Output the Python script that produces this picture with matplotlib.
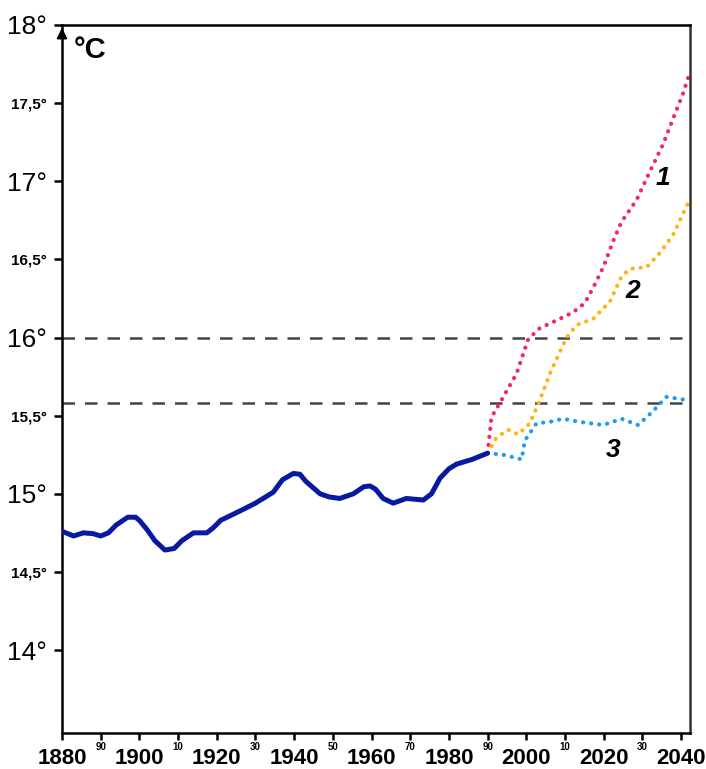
import matplotlib
matplotlib.use("Agg")
import matplotlib.pyplot as plt

plt.rcParams['font.family'] = ['Liberation Sans', 'DejaVu Sans']

# observed mean temperature, 1880-1990
obs_years = [1880, 1881, 1883, 1885.5, 1888, 1890, 1892, 1894, 1897, 1899, 1900, 1902, 1904, 1906.6,
             1909, 1911, 1914, 1917.4, 1919, 1921, 1926, 1930, 1934.6, 1937, 1939.8, 1941.5, 1943,
             1946.7, 1949, 1951.8, 1955.3, 1958, 1959.6, 1961, 1963, 1965.6, 1969, 1973.4, 1975.5,
             1977.7, 1980, 1982, 1986, 1990]
obs_temp = [14.76, 14.75, 14.73, 14.75, 14.745, 14.73, 14.75, 14.80, 14.85, 14.85, 14.83, 14.77,
            14.70, 14.64, 14.65, 14.70, 14.75, 14.75, 14.78, 14.83, 14.89, 14.94, 15.01, 15.09,
            15.13, 15.125, 15.08, 15.00, 14.98, 14.97, 15.00, 15.045, 15.05, 15.03, 14.97, 14.94,
            14.97, 14.96, 15.00, 15.10, 15.16, 15.19, 15.22, 15.26]

# scenario 1
s1_years = [1990, 1991, 1993.6, 1997.5, 2000.5, 2003.5, 2008.7, 2012, 2015.1, 2017.3, 2019.9, 2022.5,
            2024.6, 2028.5, 2031.9, 2035.4, 2038.4, 2040.5, 2042.3]
s1_temp = [15.26, 15.49, 15.60, 15.77, 15.99, 16.06, 16.12, 16.16, 16.22, 16.32, 16.45, 16.62,
           16.74, 16.88, 17.06, 17.24, 17.43, 17.56, 17.70]

# scenario 2
s2_years = [1990, 1992.3, 1995.3, 1997.9, 2000.9, 2003.5, 2006.1, 2010.4, 2013, 2017.3, 2021.6,
            2024.6, 2026.8, 2031.1, 2034.5, 2038, 2041.8]
s2_temp = [15.26, 15.36, 15.41, 15.38, 15.45, 15.60, 15.77, 16.00, 16.08, 16.12, 16.23,
           16.39, 16.44, 16.45, 16.54, 16.66, 16.86]

# scenario 3
s3_years = [1990, 1994, 1998.8, 1999.6, 2002.6, 2006, 2009.5, 2013.8, 2019.9, 2024.6, 2028.9,
            2032.8, 2036.2, 2041.4]
s3_temp = [15.26, 15.25, 15.22, 15.34, 15.45, 15.46, 15.48, 15.46, 15.44, 15.48, 15.44,
           15.53, 15.62, 15.60]

thresholds = [16.0, 15.58]

year_ticks = list(range(1880, 2041, 20))
minor_years = list(range(1890, 2041, 20))
minor_labels = ["90", "10", "30", "50", "70", "90", "10", "30"]
temp_major = [14, 15, 16, 17, 18]
temp_half = [14.5, 15.5, 16.5, 17.5]
half_labels = ["14,5°", "15,5°", "16,5°", "17,5°"]

fig = plt.figure(figsize=(7.06, 7.69), dpi=100)
ax = fig.add_axes([0.0878, 0.047, 0.8895, 0.9205])
ax.set_xlim(1880, 2042.3)
ax.set_ylim(13.47, 18)

for t in thresholds:
    ax.axhline(t, color="#444444", lw=1.8, ls=(0, (5, 4)), zorder=1)

ax.plot(obs_years, obs_temp, color="#0a1aa0", lw=3.6, solid_capstyle="round", solid_joinstyle="round", zorder=3)
dot = (0, (0.05, 1.9))
ax.plot(s1_years, s1_temp, color="#f0286e", lw=3, ls=dot, dash_capstyle="round", zorder=2)
ax.plot(s2_years, s2_temp, color="#ffb319", lw=3, ls=dot, dash_capstyle="round", zorder=2)
ax.plot(s3_years, s3_temp, color="#1e9cf0", lw=3, ls=dot, dash_capstyle="round", zorder=2)

ax.text(2035.3, 17.02, "1", fontsize=19, fontweight="bold", style="italic", ha="center", va="center")
ax.text(2027.5, 16.30, "2", fontsize=19, fontweight="bold", style="italic", ha="center", va="center")
ax.text(2022.4, 15.28, "3", fontsize=19, fontweight="bold", style="italic", ha="center", va="center")

# axes styling
for s in ["top", "right", "left", "bottom"]:
    ax.spines[s].set_linewidth(1.8)
ax.spines["right"].set_color("#333333")

ax.set_xticks(year_ticks)
ax.set_xticklabels([str(y) for y in year_ticks], fontsize=16, fontweight="bold")
ax.set_xticks(minor_years, minor=True)
ax.tick_params(axis="x", which="both", direction="out", length=5, width=1.8, pad=6)
for yr, lab in zip(minor_years, minor_labels):
    ax.annotate(lab, xy=(yr, 0), xycoords=("data", "axes fraction"), xytext=(0, -10),
                textcoords="offset points", fontsize=7, fontweight="bold", ha="center", va="center")

ax.set_yticks(temp_major)
ax.set_yticklabels([f"{t}°" for t in temp_major], fontsize=19)
ax.set_yticks(temp_half, minor=True)
ax.set_yticklabels(half_labels, minor=True, fontsize=11, fontweight="bold")
ax.tick_params(axis="y", which="both", direction="out", length=6, width=1.8, pad=5)

ax.annotate("", xy=(0, 1.0), xycoords="axes fraction", xytext=(0, 0.985),
            arrowprops=dict(arrowstyle="-|>", color="black", lw=1.5, mutation_scale=15))
ax.text(0.018, 0.985, "°C", transform=ax.transAxes, fontsize=21, fontweight="bold", va="top", ha="left")

fig.savefig("out.png", dpi=100)
